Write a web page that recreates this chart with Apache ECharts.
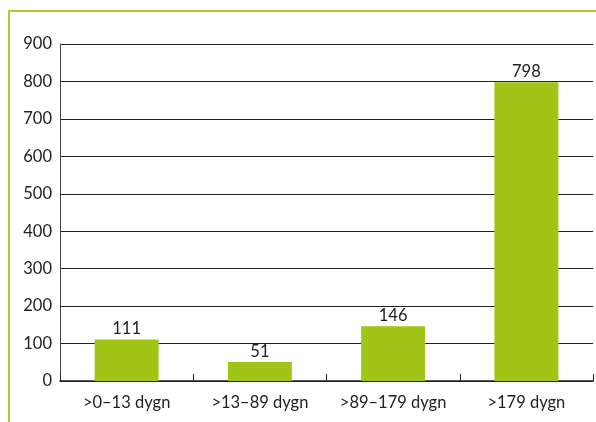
<!DOCTYPE html>
<html>
<head>
<meta charset="utf-8">
<script src="https://cdn.jsdelivr.net/npm/echarts@6/dist/echarts.min.js"></script>
<style>
  html, body { margin: 0; padding: 0; background: #fff; }
  #frame {
    position: absolute; left: 8px; top: 10px; width: 588px; height: 412px;
    border-left: 2px solid #a6cd2c; border-top: 2px solid #a6cd2c;
  }
  #chart { position: absolute; left: 0; top: 0; width: 596px; height: 422px; }
</style>
</head>
<body>
<div id="frame"></div>
<div id="chart"></div>
<script>
// kategorier och värden
const categories = ['>0–13 dygn', '>13–89 dygn', '>89–179 dygn', '>179 dygn'];
const values = [111, 51, 146, 798];

const myChart = echarts.init(document.getElementById('chart'));
const font = 'Lato, "DejaVu Sans", sans-serif';

const option = {
  animation: false,
  grid: { left: 60, right: 3, top: 44, bottom: 41, containLabel: false },
  xAxis: {
    type: 'category',
    data: categories,
    axisLine: { lineStyle: { color: '#222', width: 1.5 } },
    axisTick: { show: true, inside: true, interval: 0, length: 7, lineStyle: { color: '#222' } },
    axisLabel: { color: '#222', fontSize: 16.5, fontFamily: font, margin: 13, interval: 0, hideOverlap: false }
  },
  yAxis: {
    type: 'value',
    min: 0,
    max: 900,
    interval: 100,
    axisLine: { show: true, lineStyle: { color: '#444', width: 1 } },
    axisTick: { show: false },
    splitLine: { lineStyle: { color: '#222', width: 1.2 } },
    axisLabel: { color: '#222', fontSize: 16.5, fontFamily: font, margin: 8 }
  },
  series: [
    {
      type: 'bar',
      data: values,
      barWidth: '48%',
      itemStyle: { color: '#a0c516' },
      label: {
        show: true,
        position: 'top',
        distance: 2,
        color: '#222',
        fontSize: 16.5,
        fontFamily: font
      }
    }
  ]
};
myChart.setOption(option);
</script>
</body>
</html>
